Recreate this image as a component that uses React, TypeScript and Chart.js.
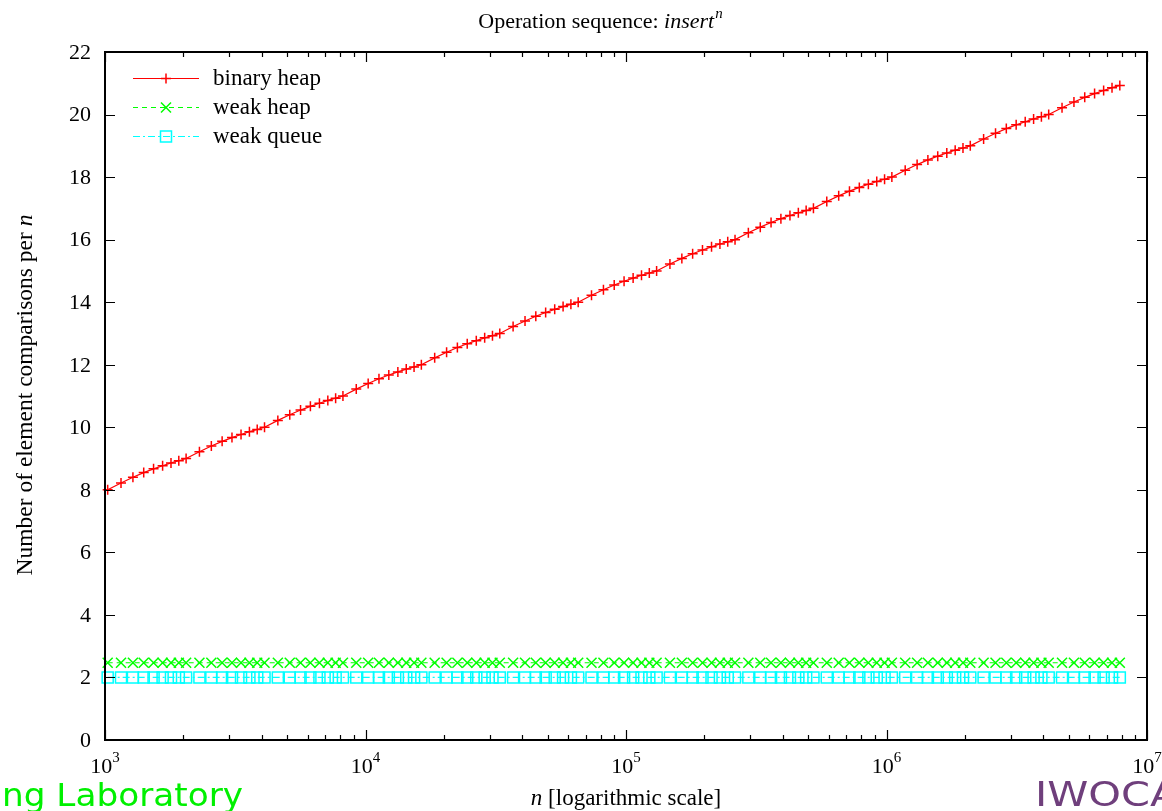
import React, { useEffect, useRef } from 'react';
import { Chart, registerables } from 'chart.js';

Chart.register(...registerables);

// Problem sizes n (x values)
const sizes = [
  1024, 1152, 1280, 1408, 1536, 1664, 1792, 1920,
  2048, 2304, 2560, 2816, 3072, 3328, 3584, 3840,
  4096, 4608, 5120, 5632, 6144, 6656, 7168, 7680,
  8192, 9216, 10240, 11264, 12288, 13312, 14336, 15360,
  16384, 18432, 20480, 22528, 24576, 26624, 28672, 30720,
  32768, 36864, 40960, 45056, 49152, 53248, 57344, 61440,
  65536, 73728, 81920, 90112, 98304, 106496, 114688, 122880,
  131072, 147456, 163840, 180224, 196608, 212992, 229376, 245760,
  262144, 294912, 327680, 360448, 393216, 425984, 458752, 491520,
  524288, 589824, 655360, 720896, 786432, 851968, 917504, 983040,
  1048576, 1179648, 1310720, 1441792, 1572864, 1703936, 1835008, 1966080,
  2097152, 2359296, 2621440, 2883584, 3145728, 3407872, 3670016, 3932160,
  4194304, 4718592, 5242880, 5767168, 6291456, 6815744, 7340032, 7864320,
];

const binaryHeap = [
  8.00, 8.22, 8.40, 8.55, 8.67, 8.77, 8.86, 8.93,
  9.00, 9.22, 9.40, 9.55, 9.67, 9.77, 9.86, 9.93,
  10.00, 10.22, 10.40, 10.55, 10.67, 10.77, 10.86, 10.93,
  11.00, 11.22, 11.40, 11.55, 11.67, 11.77, 11.86, 11.93,
  12.00, 12.22, 12.40, 12.55, 12.67, 12.77, 12.86, 12.93,
  13.00, 13.22, 13.40, 13.55, 13.67, 13.77, 13.86, 13.93,
  14.00, 14.22, 14.40, 14.55, 14.67, 14.77, 14.86, 14.93,
  15.00, 15.22, 15.40, 15.55, 15.67, 15.77, 15.86, 15.93,
  16.00, 16.22, 16.40, 16.55, 16.67, 16.77, 16.86, 16.93,
  17.00, 17.22, 17.40, 17.55, 17.67, 17.77, 17.86, 17.93,
  18.00, 18.22, 18.40, 18.55, 18.67, 18.77, 18.86, 18.93,
  19.00, 19.22, 19.40, 19.55, 19.67, 19.77, 19.86, 19.93,
  20.00, 20.22, 20.40, 20.55, 20.67, 20.77, 20.86, 20.93,
];

const weakHeap = [
  2.47, 2.47, 2.47, 2.47, 2.47, 2.47, 2.47, 2.47,
  2.47, 2.47, 2.47, 2.47, 2.47, 2.47, 2.47, 2.47,
  2.47, 2.47, 2.47, 2.47, 2.47, 2.47, 2.47, 2.47,
  2.47, 2.47, 2.47, 2.47, 2.47, 2.47, 2.47, 2.47,
  2.47, 2.47, 2.47, 2.47, 2.47, 2.47, 2.47, 2.47,
  2.47, 2.47, 2.47, 2.47, 2.47, 2.47, 2.47, 2.47,
  2.47, 2.47, 2.47, 2.47, 2.47, 2.47, 2.47, 2.47,
  2.47, 2.47, 2.47, 2.47, 2.47, 2.47, 2.47, 2.47,
  2.47, 2.47, 2.47, 2.47, 2.47, 2.47, 2.47, 2.47,
  2.47, 2.47, 2.47, 2.47, 2.47, 2.47, 2.47, 2.47,
  2.47, 2.47, 2.47, 2.47, 2.47, 2.47, 2.47, 2.47,
  2.47, 2.47, 2.47, 2.47, 2.47, 2.47, 2.47, 2.47,
  2.47, 2.47, 2.47, 2.47, 2.47, 2.47, 2.47, 2.47,
];

const weakQueue = [
  2.0, 2.0, 2.0, 2.0, 2.0, 2.0, 2.0, 2.0,
  2.0, 2.0, 2.0, 2.0, 2.0, 2.0, 2.0, 2.0,
  2.0, 2.0, 2.0, 2.0, 2.0, 2.0, 2.0, 2.0,
  2.0, 2.0, 2.0, 2.0, 2.0, 2.0, 2.0, 2.0,
  2.0, 2.0, 2.0, 2.0, 2.0, 2.0, 2.0, 2.0,
  2.0, 2.0, 2.0, 2.0, 2.0, 2.0, 2.0, 2.0,
  2.0, 2.0, 2.0, 2.0, 2.0, 2.0, 2.0, 2.0,
  2.0, 2.0, 2.0, 2.0, 2.0, 2.0, 2.0, 2.0,
  2.0, 2.0, 2.0, 2.0, 2.0, 2.0, 2.0, 2.0,
  2.0, 2.0, 2.0, 2.0, 2.0, 2.0, 2.0, 2.0,
  2.0, 2.0, 2.0, 2.0, 2.0, 2.0, 2.0, 2.0,
  2.0, 2.0, 2.0, 2.0, 2.0, 2.0, 2.0, 2.0,
  2.0, 2.0, 2.0, 2.0, 2.0, 2.0, 2.0, 2.0,
];

const seriesNames = ['binary heap', 'weak heap', 'weak queue'];
const seriesColors = ['#ff0000', '#00ff00', '#00ffff'];
const yTicks = [0, 2, 4, 6, 8, 10, 12, 14, 16, 18, 20, 22];
const xExponents = [3, 4, 5, 6, 7];
const minorMultipliers = [2, 3, 4, 5, 6, 7, 8, 9];

const SERIF = '"Liberation Serif", "Times New Roman", serif';
const FONT = `22px ${SERIF}`;
const FONT_L = `23px ${SERIF}`;
const FONT_L_IT = `italic 23px ${SERIF}`;
const FONT_IT = `italic 22px ${SERIF}`;
const FONT_SUP = `15px ${SERIF}`;
const FONT_SUP_IT = `italic 15px ${SERIF}`;

const dashes: number[][] = [[], [5, 4], [7, 3, 2, 3]];

function drawMarker(ctx: CanvasRenderingContext2D, kind: number, x: number, y: number) {
  ctx.beginPath();
  if (kind === 0) {
    ctx.moveTo(x - 5, y); ctx.lineTo(x + 5, y);
    ctx.moveTo(x, y - 5); ctx.lineTo(x, y + 5);
  } else if (kind === 1) {
    ctx.moveTo(x - 5, y - 5); ctx.lineTo(x + 5, y + 5);
    ctx.moveTo(x - 5, y + 5); ctx.lineTo(x + 5, y - 5);
  } else {
    ctx.rect(x - 5.5, y - 5.5, 11, 11);
  }
  ctx.stroke();
}

function fitText(ctx: CanvasRenderingContext2D, text: string, font: string, x0: number, x1: number, base: number, color: string, measurePart?: string) {
  ctx.save();
  ctx.font = font;
  ctx.fillStyle = color;
  ctx.textAlign = 'left';
  ctx.textBaseline = 'alphabetic';
  const w = ctx.measureText(measurePart || text).width;
  const s = (x1 - x0) / w;
  ctx.translate(x0, base);
  ctx.scale(s, 1);
  ctx.fillText(text, 0, 0);
  ctx.restore();
}

const decorPlugin = {
  id: 'gnuplotDecor',
  afterDraw(chart: any) {
    const ctx: CanvasRenderingContext2D = chart.ctx;
    const { left, right, top, bottom } = chart.chartArea;
    const xs = chart.scales.x;
    const ys = chart.scales.y;
    ctx.save();
    ctx.setLineDash([]);
    ctx.strokeStyle = '#000';
    ctx.fillStyle = '#000';

    // ticks
    ctx.lineWidth = 1.2;
    ctx.beginPath();
    yTicks.forEach((v) => {
      const py = Math.round(ys.getPixelForValue(v)) + 0.5;
      ctx.moveTo(left, py); ctx.lineTo(left + 10, py);
      ctx.moveTo(right, py); ctx.lineTo(right - 10, py);
    });
    xExponents.forEach((e) => {
      const px = Math.round(xs.getPixelForValue(Math.pow(10, e))) + 0.5;
      ctx.moveTo(px, bottom); ctx.lineTo(px, bottom - 10);
      ctx.moveTo(px, top); ctx.lineTo(px, top + 10);
      if (e < 7) {
        minorMultipliers.forEach((m) => {
          const qx = Math.round(xs.getPixelForValue(m * Math.pow(10, e))) + 0.5;
          ctx.moveTo(qx, bottom); ctx.lineTo(qx, bottom - 5);
          ctx.moveTo(qx, top); ctx.lineTo(qx, top + 5);
        });
      }
    });
    ctx.stroke();

    // frame
    ctx.lineWidth = 2;
    ctx.strokeRect(left, top, right - left, bottom - top);

    // y tick labels
    ctx.font = FONT;
    ctx.textAlign = 'right';
    ctx.textBaseline = 'middle';
    yTicks.forEach((v) => {
      ctx.fillText(String(v), 91, ys.getPixelForValue(v) + 1);
    });

    // x tick labels 10^e
    ctx.textAlign = 'left';
    ctx.textBaseline = 'alphabetic';
    xExponents.forEach((e) => {
      const px = xs.getPixelForValue(Math.pow(10, e));
      ctx.font = FONT;
      const w1 = ctx.measureText('10').width;
      ctx.font = FONT_SUP;
      const w2 = ctx.measureText(String(e)).width;
      const sx = px - (w1 + w2) / 2;
      ctx.font = FONT;
      ctx.fillText('10', sx, 773);
      ctx.font = FONT_SUP;
      ctx.fillText(String(e), sx + w1, 762);
    });

    // title
    {
      const a = 'Operation sequence: ';
      ctx.font = FONT;
      const wa = ctx.measureText(a).width;
      ctx.font = FONT_IT;
      const wb = ctx.measureText('insert').width;
      ctx.font = FONT_SUP_IT;
      const wc = ctx.measureText('n').width;
      const sx = 600 - (wa + wb + wc) / 2;
      ctx.font = FONT;
      ctx.fillText(a, sx, 28);
      ctx.font = FONT_IT;
      ctx.fillText('insert', sx + wa, 28);
      ctx.font = FONT_SUP_IT;
      ctx.fillText('n', sx + wa + wb + 1, 18);
    }

    // x axis title
    {
      ctx.font = FONT_L_IT;
      const wn = ctx.measureText('n').width;
      ctx.font = FONT_L;
      const rest = ' [logarithmic scale]';
      const wr = ctx.measureText(rest).width;
      const sx = (left + right) / 2 - (wn + wr) / 2;
      ctx.font = FONT_L_IT;
      ctx.fillText('n', sx, 805);
      ctx.font = FONT_L;
      ctx.fillText(rest, sx + wn, 805);
    }

    // y axis title (rotated)
    {
      ctx.save();
      ctx.translate(26, 395);
      ctx.rotate(-Math.PI / 2);
      ctx.textBaseline = 'middle';
      const a = 'Number of element comparisons per ';
      const f = `23.5px ${SERIF}`;
      const fi = `italic 23.5px ${SERIF}`;
      ctx.font = f;
      const wa = ctx.measureText(a).width;
      ctx.font = fi;
      const wn = ctx.measureText('n').width;
      const sx = -(wa + wn) / 2;
      ctx.font = f;
      ctx.fillText(a, sx, 0);
      ctx.font = fi;
      ctx.fillText('n', sx + wa, 0);
      ctx.restore();
    }

    // legend
    seriesNames.forEach((name, i) => {
      const ly = 78 + i * 29;
      ctx.strokeStyle = seriesColors[i];
      ctx.lineWidth = 1.2;
      ctx.setLineDash(dashes[i]);
      ctx.beginPath();
      ctx.moveTo(133, ly + 0.5);
      ctx.lineTo(199, ly + 0.5);
      ctx.stroke();
      ctx.setLineDash([]);
      ctx.lineWidth = 1.5;
      drawMarker(ctx, i, 166, ly + 0.5);
      ctx.fillStyle = '#000';
      ctx.font = FONT_L;
      ctx.textAlign = 'left';
      ctx.textBaseline = 'middle';
      ctx.fillText(name, 213, ly + 1);
    });

    // slide decorations at the bottom
    fitText(ctx, 'ng Laboratory', '32px "DejaVu Sans", sans-serif', 2, 243, 806, '#00f000');
    fitText(ctx, 'IWOCA', '33px "DejaVu Sans", sans-serif', 1035, 1150, 806, '#6f3f7c', 'IWOC');

    ctx.restore();
  },
};

export default function App() {
  const canvasRef = useRef<HTMLCanvasElement | null>(null);

  useEffect(() => {
    const canvas = canvasRef.current;
    if (!canvas) return;
    const mk = (ys: number[]) => sizes.map((x, i) => ({ x, y: ys[i] }));
    const chart = new Chart(canvas, {
      type: 'line',
      data: {
        datasets: [
          {
            label: seriesNames[0],
            data: mk(binaryHeap),
            borderColor: seriesColors[0],
            borderWidth: 1.2,
            pointStyle: 'cross',
            pointRadius: 5,
            pointBorderWidth: 1.5,
            pointBorderColor: seriesColors[0],
            pointBackgroundColor: 'transparent',
            tension: 0,
            clip: false as any,
          },
          {
            label: seriesNames[1],
            data: mk(weakHeap),
            borderColor: seriesColors[1],
            borderWidth: 1.2,
            borderDash: dashes[1],
            pointStyle: 'crossRot',
            pointRadius: 7.07,
            pointBorderWidth: 1.5,
            pointBorderColor: seriesColors[1],
            pointBackgroundColor: 'transparent',
            tension: 0,
            clip: false as any,
          },
          {
            label: seriesNames[2],
            data: mk(weakQueue),
            borderColor: seriesColors[2],
            borderWidth: 1.2,
            borderDash: dashes[2],
            pointStyle: 'rect',
            pointRadius: 7.8,
            pointBorderWidth: 1.5,
            pointBorderColor: seriesColors[2],
            pointBackgroundColor: 'transparent',
            tension: 0,
            clip: false as any,
          },
        ],
      },
      options: {
        animation: false,
        responsive: false,
        devicePixelRatio: 1,
        layout: { padding: { left: 105, top: 52, right: 15, bottom: 71 } },
        plugins: {
          legend: { display: false },
          tooltip: { enabled: false },
          title: { display: false },
        },
        events: [],
        scales: {
          x: { type: 'logarithmic', min: 1000, max: 10000000, display: false },
          y: { type: 'linear', min: 0, max: 22, display: false },
        },
      },
      plugins: [decorPlugin],
    });
    return () => chart.destroy();
  }, []);

  return (
    <div style={{ position: 'absolute', left: 0, top: 0, width: 1162, height: 811, background: '#fff', overflow: 'hidden' }}>
      <canvas ref={canvasRef} width={1162} height={811} style={{ display: 'block', width: 1162, height: 811 }} />
    </div>
  );
}
